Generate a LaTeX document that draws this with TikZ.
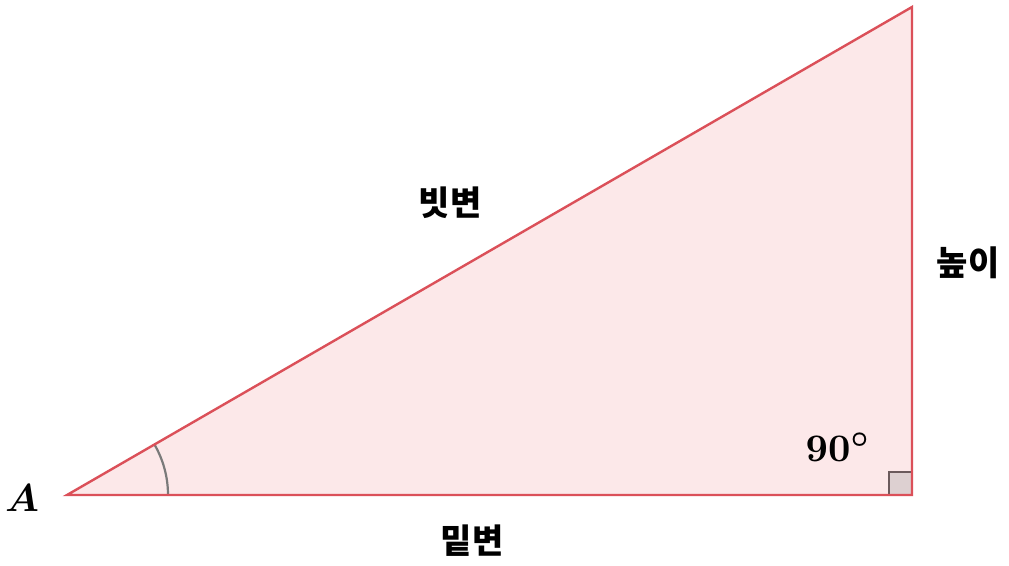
\documentclass[tikz,border=0pt]{standalone}
\usepackage{bm}
\usepackage{fontspec}
\newfontfamily\kr{Noto Sans CJK KR}
\definecolor{edge}{HTML}{DB5059}
\definecolor{fillp}{HTML}{FCE8E9}
\definecolor{arcg}{HTML}{7A7A7A}
\definecolor{sqfill}{HTML}{DDD0D1}
\definecolor{sqdraw}{HTML}{6B5A5C}
\tikzset{
  side/.style={draw=edge, line width=2.4pt, line join=miter},
  krlabel/.style={font=\kr\bfseries\fontsize{34}{36}\selectfont, text=black, inner sep=0pt},
  mathlabel/.style={font=\normalsize, scale=3.9, text=black, inner sep=0pt},
}
\begin{document}
\begin{tikzpicture}[x=1pt,y=-1pt]
\useasboundingbox (0,0) rectangle (1009,565);
\coordinate (A) at (67,495);
\coordinate (B) at (912,495);
\coordinate (C) at (912,7);
\fill[fillp] (A) -- (B) -- (C) -- cycle;
% right angle square
\filldraw[fill=sqfill, draw=sqdraw, line width=1.6pt] (889,495) rectangle (912,472);
% angle arc at A
\draw[arcg, line width=2.2pt] ([xshift=101pt]A) arc[start angle=0, end angle=30.0, radius=101pt];
\draw[side] (A) -- (B) -- (C) -- cycle;
\node[krlabel] (hyp) at (450,203) {빗변};
\node[krlabel] (hgt) at (968,263) {높이};
\node[krlabel] (bse) at (472,541) {밑변};
\node[mathlabel] (lA) at (22,498) {$\bm{A}$};
\node[mathlabel] (l90) at (838,447) {$\bm{90^\circ}$};
\end{tikzpicture}
\end{document}
